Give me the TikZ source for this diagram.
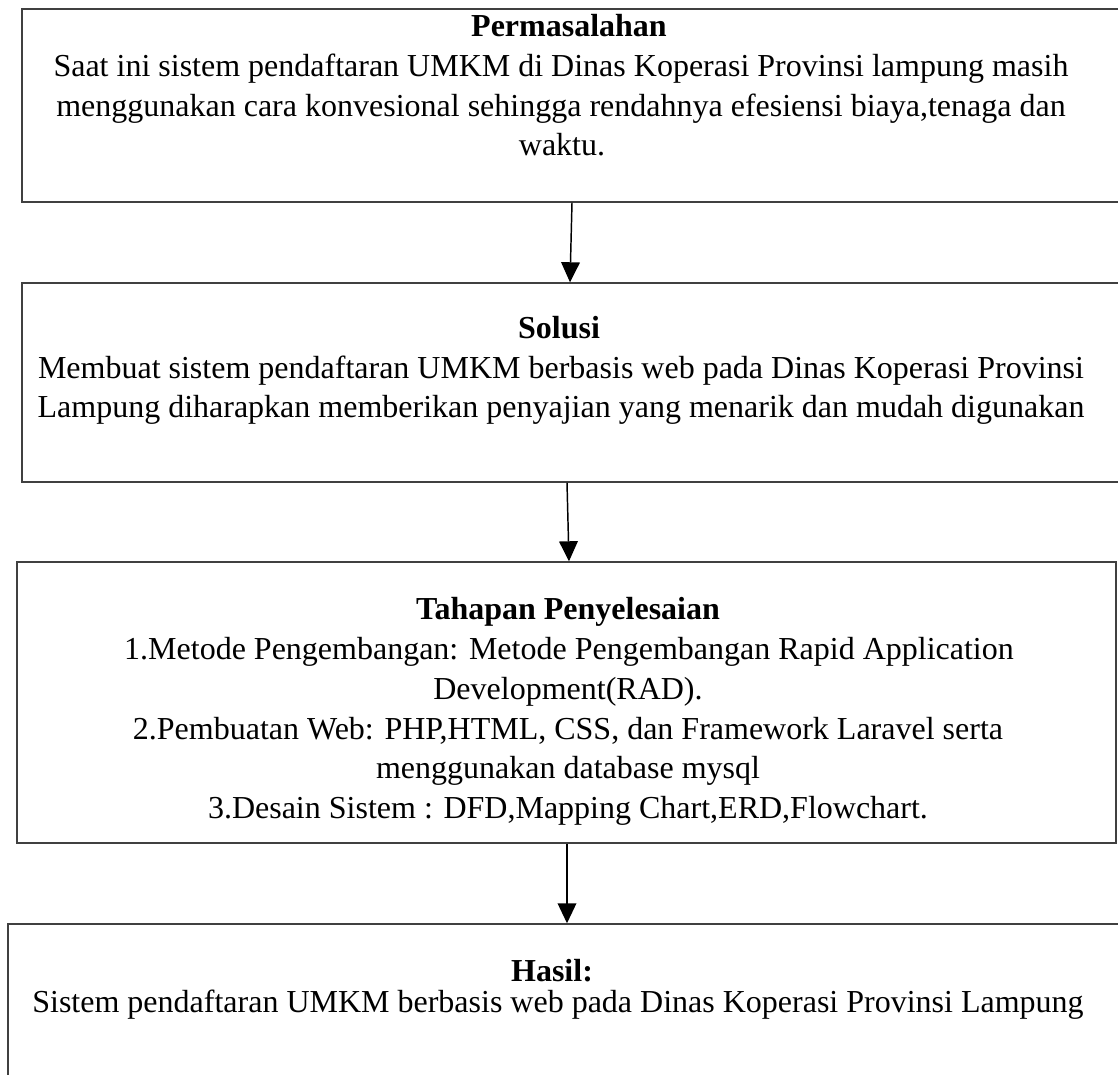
\documentclass[tikz,border=0pt]{standalone}
\usepackage{fontspec}
\setmainfont{Liberation Serif}
\usetikzlibrary{arrows.meta}
\begin{document}
\begin{tikzpicture}[x=0.75pt,y=-0.75pt,
  boxst/.style={draw=black!75, line width=1.1pt, inner sep=0pt, rectangle},
  txt/.style={inner sep=0pt, anchor=base, font=\fontsize{24pt}{29.6pt}\selectfont},
  ttl/.style={txt, font=\fontsize{24pt}{29.6pt}\selectfont\bfseries},
  arr/.style={line width=1.1pt, -{Triangle[width=14pt,length=15pt]}}]
\useasboundingbox (0,0) rectangle (1118,1075);
\clip (0,0) rectangle (1118,1075);
% boxes
\node[boxst, minimum width=1118*0.75pt, minimum height=193*0.75pt] (b1) at (581,105.5) {};
\node[boxst, minimum width=1118*0.75pt, minimum height=199*0.75pt] (b2) at (581,382.5) {};
\node[boxst, minimum width=1099*0.75pt, minimum height=281*0.75pt] (b3) at (566.5,702.5) {};
\node[boxst, minimum width=1132*0.75pt, minimum height=176*0.75pt] (b4) at (574,1012) {};
% box 1 text
\node[ttl] (t1a) at (569,36) {Permasalahan};
\node[txt] (t1b) at (561,76.5) {Saat ini sistem pendaftaran UMKM di Dinas Koperasi Provinsi lampung masih};
\node[txt] (t1c) at (561,116) {menggunakan cara konvesional sehingga rendahnya efesiensi biaya,tenaga dan};
\node[txt] (t1d) at (562,155.5) {waktu.};
% box 2 text
\node[ttl] (t2a) at (559,338) {Solusi};
\node[txt] (t2b) at (561,378) {Membuat sistem pendaftaran UMKM berbasis web pada Dinas Koperasi Provinsi};
\node[txt] (t2c) at (561,417) {Lampung diharapkan memberikan penyajian yang menarik dan mudah digunakan};
% box 3 text
\node[ttl] (t3a) at (568,619) {Tahapan Penyelesaian};
\node[txt] (t3b) at (569,659) {1.Metode Pengembangan: Metode Pengembangan Rapid Application};
\node[txt] (t3c) at (568,699) {Development(RAD).};
\node[txt] (t3d) at (568,739.5) {2.Pembuatan Web: PHP,HTML, CSS, dan Framework Laravel serta};
\node[txt] (t3e) at (568,778.5) {menggunakan database mysql};
\node[txt] (t3f) at (568,818) {3.Desain Sistem : DFD,Mapping Chart,ERD,Flowchart.};
% box 4 text
\node[ttl] (t4a) at (552,981) {Hasil:};
\node[txt] (t4b) at (558,1012) {Sistem pendaftaran UMKM berbasis web pada Dinas Koperasi Provinsi Lampung};
% arrows
\draw[arr] ([xshift=-6.75pt]b1.south) -- ([xshift=-8.25pt]b2.north);
\draw[arr] ([xshift=-10.5pt]b2.south) -- ([xshift=1.875pt]b3.north);
\draw[arr] ([xshift=0.375pt]b3.south) -- ([xshift=-5.25pt]b4.north);
\end{tikzpicture}
\end{document}
